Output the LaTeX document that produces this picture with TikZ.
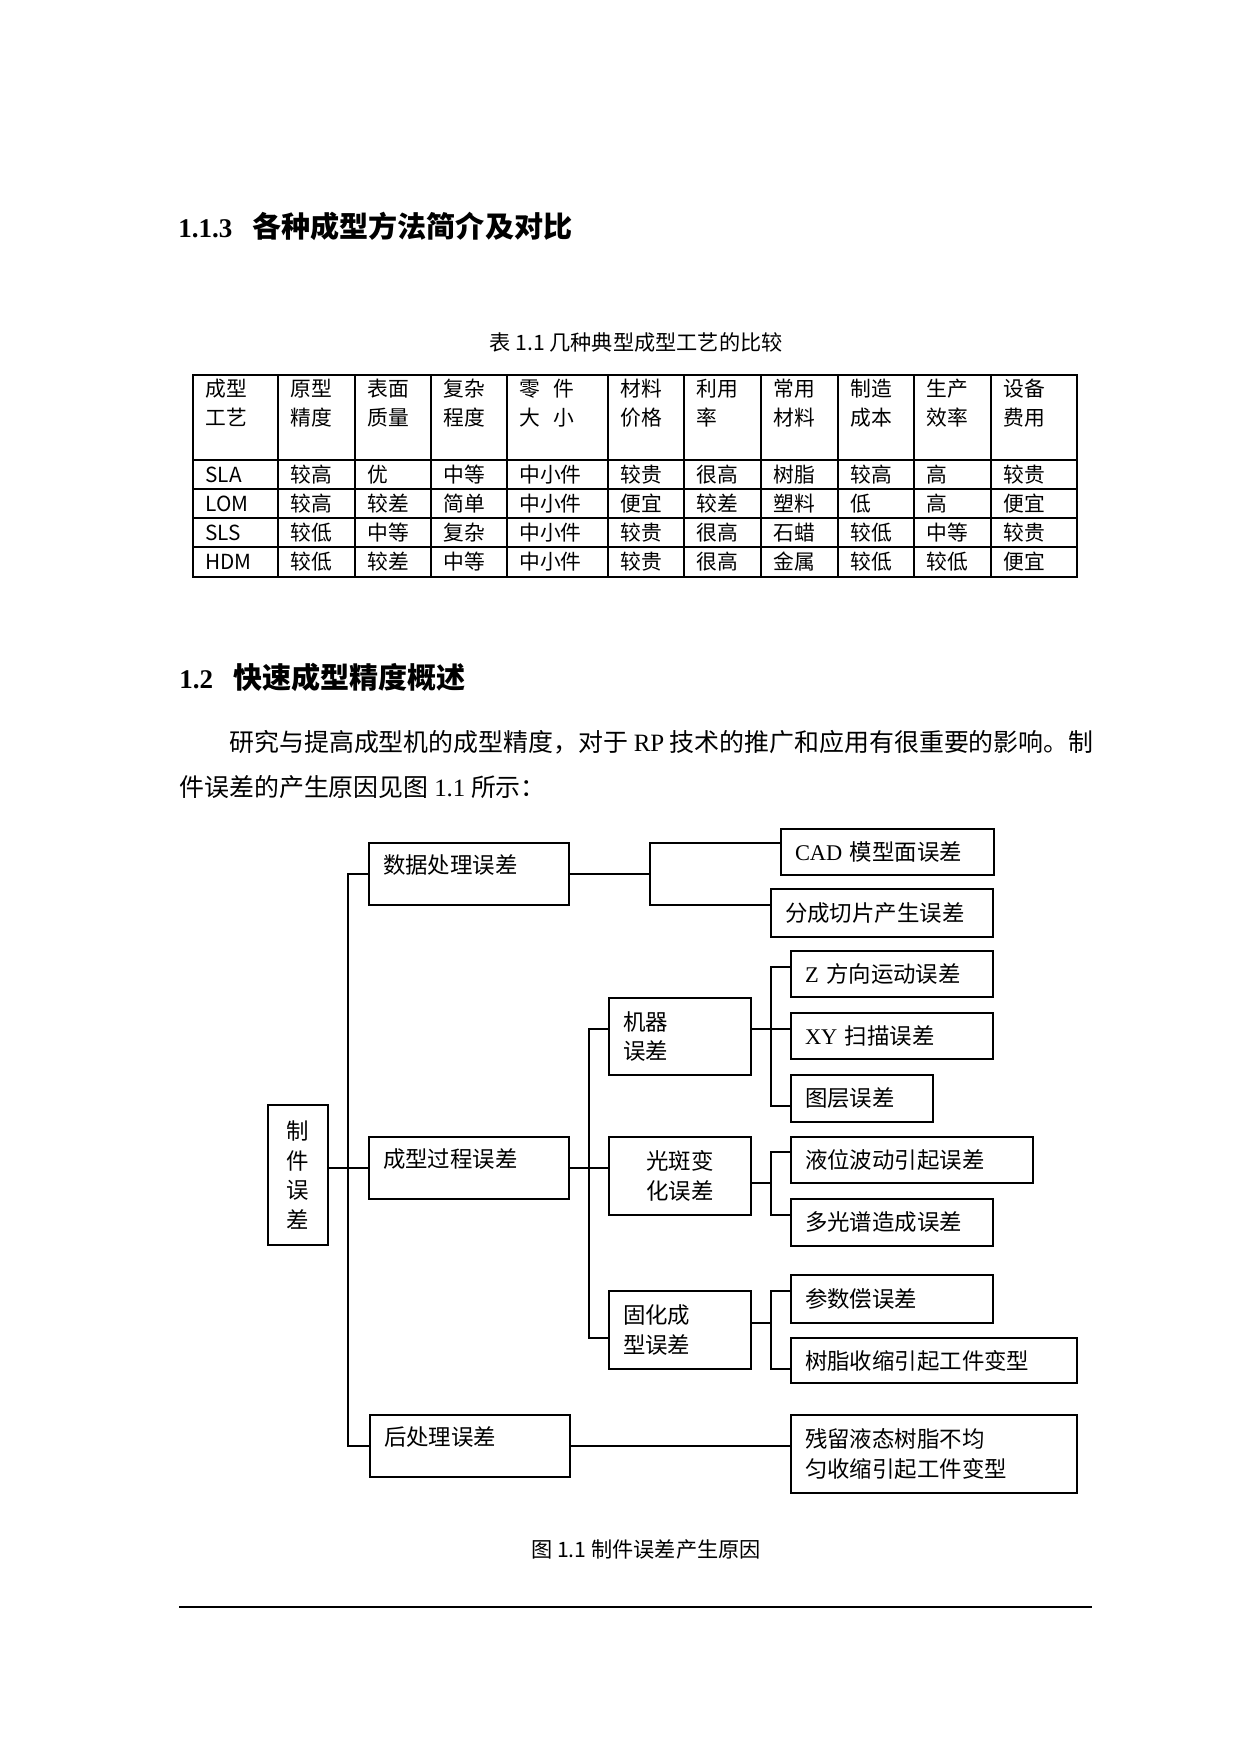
\documentclass[tikz,border=0pt]{standalone}
\usepackage{fontspec}
\setmainfont{Noto Sans CJK SC}
\newfontfamily\lat{Liberation Serif}
\usetikzlibrary{positioning,calc}
\newlength\upx
\setlength\upx{0.1692mm}

\begin{document}
\begin{tikzpicture}[x=0.1692mm, y=-0.1692mm,
  box/.style={draw, line width=0.8pt, inner xsep=14\upx, inner ysep=2\upx, align=left,
              font=\fontsize{10.8}{14.4}\selectfont},
  lift/.style={text depth=19\upx},
  link/.style={line width=0.8pt},
  cell/.style={anchor=west, inner sep=0pt, align=left, font=\fontsize{10}{13.9}\selectfont},
  captext/.style={inner sep=0pt, font=\fontsize{10.2}{12}\selectfont},
  head/.style={anchor=west, inner sep=0pt, font=\fontsize{14}{18}\selectfont\bfseries},
  para/.style={anchor=west, inner sep=0pt, font=\fontsize{12}{14}\selectfont}]
  \fill[white] (0,0) rectangle (1241,1755);

  \node[head] (sec1) at (178,226) {{\lat\fontsize{13}{16}\selectfont 1.1.3}\hspace{20\upx}各种成型方法简介及对比};

  % table
  \node[captext] (tabcap) at (636,342) {表 1.1 几种典型成型工艺的比较};
  \draw[line width=0.5pt] (193,375) rectangle (1077,577);
  \foreach \y in {460,489,518,547}
    \draw[line width=0.5pt] (193,\y) -- (1077,\y);
  \foreach \x in {278,355,431,507,608,684,761,838,914,991}
    \draw[line width=0.5pt] (\x,375) -- (\x,577);
  \foreach \t [count=\c] in {{成型\\工艺},{原型\\精度},{表面\\质量},{复杂\\程度},
      {零\hspace{13\upx}件\\大\hspace{13\upx}小},
      {材料\\价格},{利用\\率},{常用\\材料},{制造\\成本},{生产\\效率},{设备\\费用}} {
    \pgfmathsetmacro\cx{{193,278,355,431,507,608,684,761,838,914,991}[\c-1]}
    \node[cell] (h\c) at (\cx+12,403) {\t};
  }
  \foreach \y/\row [count=\r] in {474.5/{SLA,较高,优,中等,中小件,较贵,很高,树脂,较高,高,较贵},
      503.5/{LOM,较高,较差,简单,中小件,便宜,较差,塑料,低,高,便宜},
      532.5/{SLS,较低,中等,复杂,中小件,较贵,很高,石蜡,较低,中等,较贵},
      562/{HDM,较低,较差,中等,中小件,较贵,很高,金属,较低,较低,便宜}} {
    \foreach \t [count=\c] in \row {
      \pgfmathsetmacro\cx{{193,278,355,431,507,608,684,761,838,914,991}[\c-1]}
      \node[cell] (c\r-\c) at (\cx+12,\y) {\t};
    }
  }

  \node[head] (sec2) at (179,677) {{\lat\fontsize{13}{16}\selectfont 1.2}\hspace{20\upx}快速成型精度概述};
  \node[para] (p1) at (229,742) {研究与提高成型机的成型精度，对于 {\lat RP} 技术的推广和应用有很重要的影响。制};
  \node[para] (p2) at (179,787) {件误差的产生原因见图 {\lat 1.1} 所示：};

  % boxes
  \node[box, align=center, inner xsep=2\upx, minimum width=60\upx, minimum height=140\upx] (root) at (298,1175) {制\\件\\误\\差};
  \node[box, lift, text width=172\upx, minimum height=62\upx] (data) at (469,874) {数据处理误差};
  \node[box, lift, text width=172\upx, minimum height=62\upx] (form) at (469,1168) {成型过程误差};
  \node[box, lift, text width=172\upx, minimum height=62\upx] (post) at (470,1446) {后处理误差};
  \node[box, text width=185\upx, minimum height=46\upx] (cad) at (887.5,852) {{\lat CAD} 模型面误差};
  \node[box, text width=194\upx, minimum height=48\upx] (slice) at (882,913) {分成切片产生误差};
  \node[box, text width=114\upx, minimum height=77\upx] (mach) at (680,1036.5) {机器\\误差};
  \node[box, align=center, minimum width=142\upx, minimum height=78\upx] (spot) at (680,1176) {光斑变\\化误差};
  \node[box, text width=114\upx, minimum height=78\upx] (cure) at (680,1330) {固化成\\型误差};
  \node[box, text width=174\upx, minimum height=46\upx] (zdir) at (892,974) {{\lat Z} 方向运动误差};
  \node[box, text width=174\upx, minimum height=46\upx] (xy) at (892,1036) {{\lat XY} 扫描误差};
  \node[box, text width=114\upx, minimum height=47\upx] (layer) at (862,1098.5) {图层误差};
  \node[box, text width=214\upx, minimum height=46\upx] (liquid) at (912,1160) {液位波动引起误差};
  \node[box, text width=174\upx, minimum height=47\upx] (multi) at (892,1222.5) {多光谱造成误差};
  \node[box, text width=174\upx, minimum height=48\upx] (param) at (892,1299) {参数偿误差};
  \node[box, text width=258\upx, minimum height=45\upx] (resin) at (934,1360.5) {树脂收缩引起工件变型};
  \node[box, text width=258\upx, minimum height=78\upx] (residue) at (934,1454) {残留液态树脂不均\\匀收缩引起工件变型};

  % links
  \draw[link] (data.west) -- ++(-20,0) |- (post.west);
  \draw[link] (root.east |- form.west) -- (form.west);
  \coordinate (d1) at (650,843);
  \coordinate (d2) at (650,905);
  \draw[link] (data.east) -- (data.east -| d1);
  \draw[link] (cad.west |- d1) -- (d1) -- (d2) -- (slice.west |- d2);
  \coordinate (f1) at (589,1029);
  \coordinate (f2) at (589,1338);
  \draw[link] (form.east) -- (spot.west |- form.east);
  \draw[link] (mach.west |- f1) -- (f1) -- (f2) -- (cure.west |- f2);
  \coordinate (m1) at (771,967);
  \coordinate (m2) at (771,1106);
  \draw[link] (mach.east |- f1) -- (xy.west |- f1);
  \draw[link] (zdir.west |- m1) -- (m1) -- (m2) -- (layer.west |- m2);
  \coordinate (s0) at (771,1183);
  \coordinate (s1) at (771,1152);
  \coordinate (s2) at (771,1215);
  \draw[link] (spot.east |- s0) -- (s0);
  \draw[link] (liquid.west |- s1) -- (s1) -- (s2) -- (multi.west |- s2);
  \coordinate (k0) at (771,1323);
  \coordinate (k1) at (771,1291);
  \coordinate (k2) at (771,1369);
  \draw[link] (cure.east |- k0) -- (k0);
  \draw[link] (param.west |- k1) -- (k1) -- (k2) -- (resin.west |- k2);
  \draw[link] (post.east) -- (residue.west |- post.east);

  \node[captext] (figcap) at (646,1549) {图 1.1 制件误差产生原因};
  \draw[line width=0.6pt] (179,1607) -- (1092,1607);
\end{tikzpicture}
\end{document}
